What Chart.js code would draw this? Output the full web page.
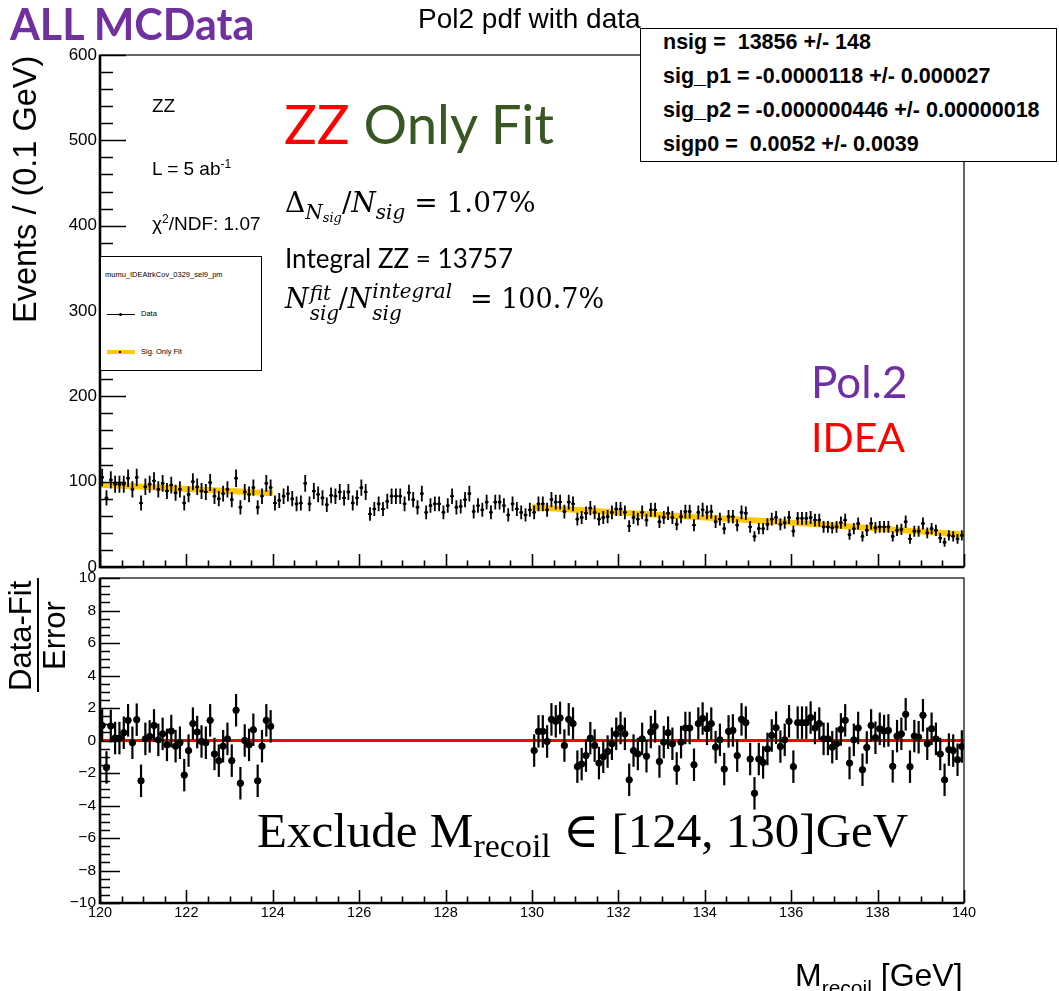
<!DOCTYPE html>
<html>
<head>
<meta charset="utf-8">
<title>Pol2 pdf with data</title>
<script src="https://cdn.jsdelivr.net/npm/chart.js@4.4.0/dist/chart.umd.min.js"></script>
<style>
  html, body { margin: 0; padding: 0; background: #fff; }
  #page { position: relative; width: 1059px; height: 991px; overflow: hidden; font-family: 'Liberation Sans', Arial, sans-serif; color: #000; }
  canvas { position: absolute; left: 0; top: 0; }
  .t { position: absolute; white-space: pre; line-height: 1; }
  .cal { font-family: Lato, 'Open Sans', sans-serif; }
  .math { font-family: 'DejaVu Serif', 'Liberation Serif', serif; }
  .serif { font-family: 'Liberation Serif', 'DejaVu Serif', serif; }
  .rot { transform-origin: left top; transform: rotate(-90deg); }
  #stats { position: absolute; left: 640px; top: 28px; width: 417px; height: 134px; background: #fff; border: 1px solid #000; box-sizing: border-box; }
  #stats .t { left: 22px; font-weight: bold; font-size: 21.5px; }
  #legend { position: absolute; left: 100px; top: 256px; width: 162px; height: 115px; background: #fff; border: 1px solid #000; box-sizing: border-box; }
  #legend .t { font-size: 7.5px; }
  .line { position: absolute; }
</style>
</head>
<body>
<div id="page">
  <canvas id="mainPad" width="1059" height="991"></canvas>
  <canvas id="pullPad" width="1059" height="991"></canvas>

  <div class="t cal" style="left:10px; top:2px; font-size:43px; font-weight:bold; color:#7030a0;">ALL MCData</div>
  <div class="t" style="left:418px; top:5px; font-size:28px;">Pol2 pdf with data</div>

  <div id="stats">
    <div class="t" style="top:3px;">nsig =  13856 +/- 148</div>
    <div class="t" style="top:37px;">sig_p1 = -0.0000118 +/- 0.000027</div>
    <div class="t" style="top:71px;">sig_p2 = -0.000000446 +/- 0.00000018</div>
    <div class="t" style="top:105px;">sigp0 =  0.0052 +/- 0.0039</div>
  </div>

  <!-- y axis titles -->
  <div class="t rot" style="left:9px; top:323px; font-size:32.5px;">Events / (0.1 GeV)</div>
  <div class="t rot" style="left:5px; top:691px; font-size:31px;">Data-Fit</div>
  <div class="line" style="left:37px; top:578px; width:2px; height:114px; background:#000;"></div>
  <div class="t rot" style="left:39px; top:670px; font-size:31px;">Error</div>

  <!-- x axis title -->
  <div class="t" style="left:795px; top:959px; font-size:32px;">M<span style="font-size:21px; position:relative; top:9px;">recoil</span> [GeV]</div>

  <!-- plot annotations -->
  <div class="t" style="left:152px; top:96px; font-size:19px;">ZZ</div>
  <div class="t" style="left:152px; top:158px; font-size:19px;">L = 5 ab<sup style="font-size:12px;">-1</sup></div>
  <div class="t" style="left:152px; top:213px; font-size:19px;">&chi;<sup style="font-size:12px;">2</sup>/NDF: 1.07</div>

  <div id="legend">
    <div class="t" style="left:4px; top:14px;">mumu_IDEAtrkCov_0329_sel9_pm</div>
    <div class="line" style="left:6px; top:57px; width:28px; height:1px; background:#000;"></div>
    <div class="line" style="left:18px; top:56px; width:3px; height:3px; background:#000; border-radius:2px;"></div>
    <div class="t" style="left:40px; top:53px;">Data</div>
    <div class="line" style="left:6px; top:93px; width:28px; height:4px; background:#ffc800;"></div>
    <div class="line" style="left:18px; top:94px; width:2px; height:2px; background:#000;"></div>
    <div class="t" style="left:40px; top:91px;">Sig. Only Fit</div>
  </div>

  <div class="t cal" style="left:284px; top:96px; font-size:54.5px;"><span style="color:#ff0000;">ZZ</span> <span style="color:#385723;">Only Fit</span></div>

  <div class="t math" style="left:285px; top:189px; font-size:28px;">&Delta;<span style="font-size:20px; position:relative; top:7px;"><i>N</i><span style="font-size:13px; position:relative; top:3px;"><i>sig</i></span></span>/<i>N</i><span style="font-size:20px; position:relative; top:7px;"><i>sig</i></span> = 1.07%</div>

  <div class="t cal" style="left:285px; top:245px; font-size:26px;">Integral ZZ = 13757</div>

  <div class="t math" style="left:285px; top:285px; font-size:27px;"><i>N</i><span style="display:inline-block; position:relative; width:30px; height:10px;"><i style="position:absolute; left:1px; top:-15px; font-size:20px;">fit</i><i style="position:absolute; left:1px; top:5px; font-size:20px;">sig</i></span>/<i>N</i><span style="display:inline-block; position:relative; width:90px; height:10px;"><i style="position:absolute; left:1px; top:-17px; font-size:20px;">integral</i><i style="position:absolute; left:1px; top:5px; font-size:20px;">sig</i></span> = 100.7%</div>

  <div class="t cal" style="left:811px; top:359px; font-size:44px; color:#7030a0;">Pol.2</div>
  <div class="t cal" style="left:811px; top:416px; font-size:41px; color:#ff0000;">IDEA</div>

  <div class="t serif" style="left:257px; top:806px; font-size:49px;">Exclude M<span style="font-size:34px; position:relative; top:10px;">recoil</span> &isin; [124, 130]GeV</div>
</div>

<script>
// ---- data: events per 0.1 GeV bin, 120.0 - 140.0 GeV ----
const massMin = 120;
const massMax = 140;
const binWidth = 0.1;

const eventCounts = [
  105, 81, 102, 97, 97, 97, 104, 91, 105, 75,
  94, 97, 101, 91, 98, 89, 96, 87, 91, 75,
  85, 100, 94, 89, 88, 99, 83, 80, 86, 91,
  79, 104, 70, 88, 85, 93, 70, 83, 98, 93,
  75, 78, 83, 86, 80, 74, 75, 98, 74, 89,
  85, 81, 73, 84, 83, 88, 81, 88, 75, 81,
  93, 88, 62, 68, 74, 68, 77, 83, 83, 83,
  74, 87, 79, 70, 86, 64, 72, 74, 74, 64,
  72, 83, 70, 71, 79, 86, 65, 72, 67, 76,
  64, 76, 76, 72, 61, 74, 68, 64, 61, 67,
  64, 74, 74, 67, 79, 76, 76, 65, 76, 74,
  56, 58, 63, 69, 64, 56, 58, 59, 64, 68,
  68, 64, 48, 58, 56, 64, 55, 67, 67, 53,
  58, 63, 58, 50, 59, 65, 65, 49, 64, 67,
  64, 65, 53, 56, 45, 59, 59, 49, 64, 63,
  47, 36, 45, 45, 50, 56, 58, 50, 52, 58,
  42, 57, 57, 57, 58, 55, 55, 47, 47, 46,
  47, 52, 55, 38, 45, 51, 36, 43, 51, 46,
  47, 47, 47, 36, 43, 44, 53, 33, 42, 42,
  51, 40, 45, 43, 34, 29, 37, 36, 33, 37
];

// pol2 fit, drawn only in the two sidebands (signal window 124-130 excluded)
const fitMass = [120, 121, 122, 123, 124, 127, 130, 131, 132, 133, 134, 135, 136, 137, 138, 139, 140];
const fitValue = [96.5, 94, 91.5, 89, 86.5, null, 70, 67, 64, 61, 58, 55, 52, 48.5, 45, 41.5, 38];

// (data - fit) / error for the fitted bins
const pullLowSide = [
  0.93, -1.66, 0.89, 0.15, 0.15, 0.48, 1.24, -0.14, 1.28, -2.48,
  0.10, 0.25, 0.93, 0.04, 0.41, -0.27, 0.58, -0.35, -0.14, -2.13,
  -0.62, 1.04, 0.52, -0.06, -0.14, 1.24, -0.83, -1.24, -0.35, 0.10,
  -1.24, 1.86, -2.63, 0.00, -0.27, 0.66, -2.48, -0.35, 1.24, 0.87
];
const pullHighSide = [
  -0.62, 0.56, 0.56, -0.06, 1.30, 1.18, 1.39, -0.31, 1.30, 1.04,
  -1.61, -1.45, -0.93, 0.14, -0.31, -1.39, -1.00, -0.68, -0.20, 0.41,
  0.77, 0.41, -2.42, -0.62, -0.83, 0.10, -0.97, 0.52, 0.87, -1.29,
  -0.10, 0.48, -0.20, -1.72, -0.10, 0.77, 0.77, -1.49, 1.04, 1.35,
  0.72, 1.04, -0.41, 0.04, -1.76, 0.56, 0.62, -0.93, 1.30, 1.10,
  -1.14, -3.25, -1.14, -1.35, -0.52, 0.31, 0.79, -0.37, 0.04, 1.18,
  -1.61, 1.10, 1.10, 1.10, 1.41, 0.77, 1.04, 0.10, 0.10, -0.41,
  -0.20, 0.68, 1.24, -1.39, 0.04, 0.77, -1.80, -0.43, 0.93, 0.17,
  0.72, 0.58, 0.62, -1.59, 0.27, 0.41, 1.61, -1.61, 0.27, 0.20,
  1.55, -0.20, 0.72, 0.10, -0.83, -2.42, -0.56, -0.62, -1.18, -0.37
];
const pullError = 1;

// ---- build points ----
const binCenters = eventCounts.map((_, i) => +(massMin + binWidth * (i + 0.5)).toFixed(2));
const dataPoints = eventCounts.map((n, i) => ({ x: binCenters[i], y: n }));
const fitPoints = fitMass.map((m, i) => ({ x: m, y: fitValue[i] }));
const pullPoints = pullLowSide.map((p, i) => ({ x: binCenters[i], y: p }))
  .concat(pullHighSide.map((p, i) => ({ x: binCenters[100 + i], y: p })));

Chart.defaults.color = '#000';
Chart.defaults.font.family = "'Liberation Sans', Arial, sans-serif";

// vertical (and optional horizontal) error bars
const errorBars = {
  id: 'errorBars',
  afterDatasetsDraw(chart) {
    const { ctx, scales: { x, y } } = chart;
    chart.data.datasets.forEach((ds) => {
      if (!ds.yErr) return;
      ctx.save();
      ctx.strokeStyle = '#000';
      ctx.lineWidth = ds.barWidth;
      ds.data.forEach((pt, j) => {
        const e = ds.yErr[j];
        const px = x.getPixelForValue(pt.x);
        const py = y.getPixelForValue(pt.y);
        ctx.beginPath();
        ctx.moveTo(px, y.getPixelForValue(pt.y - e));
        ctx.lineTo(px, y.getPixelForValue(pt.y + e));
        if (ds.xErr) {
          ctx.moveTo(x.getPixelForValue(pt.x - ds.xErr), py);
          ctx.lineTo(x.getPixelForValue(pt.x + ds.xErr), py);
        }
        ctx.stroke();
      });
      ctx.restore();
    });
  }
};

// ROOT style frame with ticks pointing inward
const rootFrame = {
  id: 'rootFrame',
  afterDraw(chart, args, o) {
    const { ctx, chartArea: a, scales: { x, y } } = chart;
    const isMajor = (v, step) => Math.abs(v / step - Math.round(v / step)) < 1e-6;
    ctx.save();
    ctx.strokeStyle = '#000';
    ctx.lineWidth = 1.6;
    ctx.beginPath();
    for (let v = y.min; v <= y.max + 1e-9; v += o.yMinor) {
      const py = Math.round(y.getPixelForValue(v)) + 0.5;
      const len = isMajor(v, o.yMajor) ? o.yTick : o.yTick / 2;
      ctx.moveTo(a.left, py);
      ctx.lineTo(a.left + len, py);
    }
    for (let v = x.min; v <= x.max + 1e-9; v += o.xMinor) {
      const px = Math.round(x.getPixelForValue(v)) + 0.5;
      const len = isMajor(v, o.xMajor) ? o.xTick : o.xTick / 2;
      ctx.moveTo(px, a.bottom);
      ctx.lineTo(px, a.bottom - len);
    }
    ctx.stroke();
    ctx.lineWidth = 1.2;
    ctx.strokeRect(a.left, a.top, a.right - a.left, a.bottom - a.top);
    ctx.lineWidth = 2.6;
    ctx.beginPath();
    ctx.moveTo(a.left, a.top);
    ctx.lineTo(a.left, a.bottom);
    ctx.lineTo(a.right, a.bottom);
    ctx.stroke();
    ctx.restore();
  }
};

// upper pad: events with the fit
new Chart(document.getElementById('mainPad'), {
  type: 'scatter',
  data: {
    datasets: [
      {
        type: 'line',
        data: fitPoints,
        borderColor: '#ffc800',
        borderWidth: 6,
        pointRadius: 0,
        spanGaps: false,
        order: 2
      },
      {
        data: dataPoints,
        yErr: eventCounts.map(Math.sqrt),
        xErr: 0.04,
        barWidth: 1.8,
        backgroundColor: '#000',
        borderColor: '#000',
        pointRadius: 1.3,
        order: 1
      }
    ]
  },
  options: {
    responsive: false,
    animation: false,
    events: [],
    layout: { padding: { left: 0, top: 55, right: 95, bottom: 424 } },
    scales: {
      x: { type: 'linear', min: massMin, max: massMax, display: false },
      y: {
        min: 0, max: 600,
        grid: { display: false, drawTicks: false },
        border: { display: false },
        ticks: { stepSize: 100, padding: 3, font: { size: 17 } },
        afterFit: (s) => { s.width = 100; }
      }
    },
    plugins: {
      legend: { display: false },
      tooltip: { enabled: false },
      rootFrame: { yMinor: 20, yMajor: 100, yTick: 26, xMinor: 0.5, xMajor: 2, xTick: 13 }
    }
  },
  plugins: [errorBars, rootFrame]
});

// lower pad: pulls
new Chart(document.getElementById('pullPad'), {
  type: 'scatter',
  data: {
    datasets: [
      {
        type: 'line',
        data: [{ x: massMin, y: 0 }, { x: massMax, y: 0 }],
        borderColor: '#ff0000',
        borderWidth: 3,
        pointRadius: 0,
        order: 2
      },
      {
        data: pullPoints,
        yErr: pullPoints.map(() => pullError),
        barWidth: 2.2,
        backgroundColor: '#000',
        borderColor: '#000',
        pointRadius: 3.2,
        order: 1
      }
    ]
  },
  options: {
    responsive: false,
    animation: false,
    events: [],
    layout: { padding: { left: 0, top: 578, right: 95, bottom: 60 } },
    scales: {
      x: {
        type: 'linear', min: massMin, max: massMax,
        grid: { display: false, drawTicks: false },
        border: { display: false },
        ticks: { stepSize: 2, padding: 1, maxRotation: 0, font: { size: 14.5 } },
        afterFit: (s) => { s.height = 28; }
      },
      y: {
        min: -10, max: 10,
        grid: { display: false, drawTicks: false },
        border: { display: false },
        ticks: { stepSize: 2, padding: 4, font: { size: 15.5 }, callback: (v) => String(v).replace('-', '\u2212') },
        afterFit: (s) => { s.width = 100; }
      }
    },
    plugins: {
      legend: { display: false },
      tooltip: { enabled: false },
      rootFrame: { yMinor: 0.5, yMajor: 2, yTick: 20, xMinor: 0.5, xMajor: 2, xTick: 13 }
    }
  },
  plugins: [errorBars, rootFrame]
});
</script>
</body>
</html>
